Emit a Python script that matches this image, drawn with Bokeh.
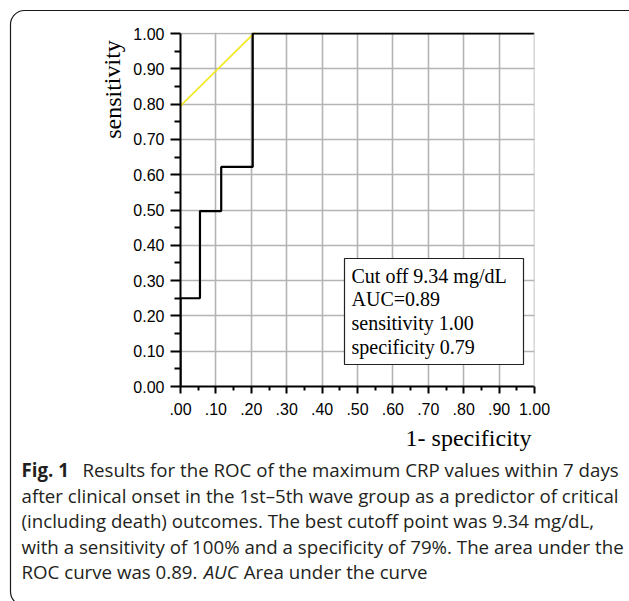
from bokeh.plotting import figure
from bokeh.models import Range1d, FixedTicker, Label, BoxAnnotation, Span
from bokeh.embed import file_html
from bokeh.resources import INLINE

# ---- data ----
roc_fpr = [0.0, 0.0, 0.055, 0.055, 0.115, 0.115, 0.204, 0.204, 1.0]
roc_tpr = [0.0, 0.25, 0.25, 0.497, 0.497, 0.622, 0.622, 1.0, 1.0]
tangent_x = [0.0, 0.217]
tangent_y = [0.795, 1.01]
tangent_end_x = [0.217]
tangent_end_y = [1.01]

major_ticks = [0.0, 0.1, 0.2, 0.3, 0.4, 0.5, 0.6, 0.7, 0.8, 0.9, 1.0]
minor_ticks = [0.05, 0.15, 0.25, 0.35, 0.45, 0.55, 0.65, 0.75, 0.85, 0.95]
y_tick_labels = ["0.00", "0.10", "0.20", "0.30", "0.40", "0.50", "0.60", "0.70", "0.80", "0.90", "1.00"]
x_tick_labels = [".00", ".10", ".20", ".30", ".40", ".50", ".60", ".70", ".80", ".90", "1.00"]

info_lines = ["Cut off 9.34 mg/dL", "AUC=0.89", "sensitivity 1.00", "specificity 0.79"]

caption_head = "Fig. 1"
caption_lines = [
    "Results for the ROC of the maximum CRP values within 7 days",
    "after clinical onset in the 1st\u20135th wave group as a predictor of critical",
    "(including death) outcomes. The best cutoff point was 9.34 mg/dL,",
    "with a sensitivity of 100% and a specificity of 79%. The area under the",
    "ROC curve was 0.89.",
]
caption_italic = "AUC"
caption_tail = "Area under the curve"

C = dict(x_units="canvas", y_units="canvas")
CAP_FS = 18.7

p = figure(frame_width=354, frame_height=354,
           min_border_left=180, min_border_right=95,
           min_border_top=32, min_border_bottom=215,
           x_range=Range1d(0, 1), y_range=Range1d(0, 354 / 353),
           output_backend="svg", toolbar_location=None,
           background_fill_color="white", border_fill_color="white")
p.outline_line_color = None

ticker = FixedTicker(ticks=major_ticks, minor_ticks=minor_ticks)
for ax, labels, tout, mout, stand in ((p.xaxis[0], x_tick_labels, 7, 4, 9),
                                      (p.yaxis[0], y_tick_labels, 10, 6, 6)):
    ax.ticker = ticker
    ax.bounds = (0, 1)
    ax.major_label_overrides = {t: l for t, l in zip(major_ticks, labels)}
    ax.axis_line_width = 2
    ax.axis_line_color = "black"
    ax.major_tick_line_width = 2
    ax.minor_tick_line_width = 2
    ax.major_tick_in = 0
    ax.minor_tick_in = 0
    ax.major_tick_out = tout
    ax.minor_tick_out = mout
    ax.major_label_standoff = stand
    ax.major_label_text_font = "Liberation Sans"
    ax.major_label_text_font_size = "16px"
    ax.major_label_text_color = "black"

for g in (p.xgrid[0], p.ygrid[0]):
    g.ticker = ticker
    g.grid_line_color = "#b4b4b4"
    g.grid_line_width = 1.6

p.add_layout(Span(location=1.0, dimension="height", line_color="#b4b4b4", line_width=1.6))

p.line(tangent_x, tangent_y, line_color="#f2e81c", line_width=1.6)
p.scatter(tangent_end_x, tangent_end_y, marker="triangle", size=6,
          fill_color="#f2e81c", line_color="#f2e81c")
p.line(roc_fpr, roc_tpr, line_color="black", line_width=2.2)

# info box
p.add_layout(BoxAnnotation(left=344, right=523, top=258, bottom=364,
                           left_units="canvas", right_units="canvas",
                           top_units="canvas", bottom_units="canvas",
                           fill_color="white", fill_alpha=1.0,
                           line_color="#222222", line_alpha=1.0, line_width=1.2,
                           level="annotation"))
for i, t in enumerate(info_lines):
    p.add_layout(Label(x=351, y=275 + i * 23.7, text=t, **C,
                       text_font="Liberation Serif", text_font_size="20px",
                       text_color="black", text_baseline="alphabetic"))

# axis titles
p.add_layout(Label(x=112, y=89, text="sensitivity", angle=1.5708, **C,
                   text_font="Liberation Serif", text_font_size="24px",
                   text_align="center", text_baseline="alphabetic", text_color="black"), "left")
p.add_layout(Label(x=531, y=437, text="1- specificity", **C,
                   text_font="Liberation Serif", text_font_size="24px",
                   text_align="right", text_baseline="alphabetic", text_color="black"), "below")

# outer rounded frame (an empty label with a padded, rounded border)
try:
    frame_lbl = Label(x=10, y=10, text=" ", **C, text_font_size="1px",
                      text_align="left", text_baseline="top",
                      padding=dict(left=0, right=650, top=0, bottom=594),
                      border_line_color="#1a1a1a", border_line_width=1.2,
                      border_radius=14, background_fill_color=None)
except Exception:
    frame_lbl = Label(x=10, y=10, text=" ", **C, text_font_size="1px",
                      text_align="left", text_baseline="top",
                      border_line_color="#1a1a1a", border_line_width=1.2,
                      background_fill_color=None)
p.add_layout(frame_lbl, "below")

# caption
cap_base = [469, 494.5, 520, 545.5, 571]
p.add_layout(Label(x=21, y=cap_base[0], text=caption_head, **C,
                   text_font="Open Sans", text_font_style="bold", text_font_size=f"{CAP_FS}px",
                   text_color="#231f20", text_baseline="alphabetic"), "below")
for i, t in enumerate(caption_lines):
    x0 = 82 if i == 0 else 21
    p.add_layout(Label(x=x0, y=cap_base[i], text=t, **C,
                       text_font="Open Sans", text_font_size=f"{CAP_FS}px",
                       text_color="#231f20", text_baseline="alphabetic"), "below")
x_auc = 21 + (9.48 + 0.26) * CAP_FS
x_tail = x_auc + (1.88 + 0.26) * CAP_FS
p.add_layout(Label(x=x_auc, y=cap_base[4], text=caption_italic, **C,
                   text_font="Open Sans", text_font_style="italic", text_font_size=f"{CAP_FS}px",
                   text_color="#231f20", text_baseline="alphabetic"), "below")
p.add_layout(Label(x=x_tail, y=cap_base[4], text=caption_tail, **C,
                   text_font="Open Sans", text_font_size=f"{CAP_FS}px",
                   text_color="#231f20", text_baseline="alphabetic"), "below")

open("out.html", "w").write(file_html(p, INLINE))
